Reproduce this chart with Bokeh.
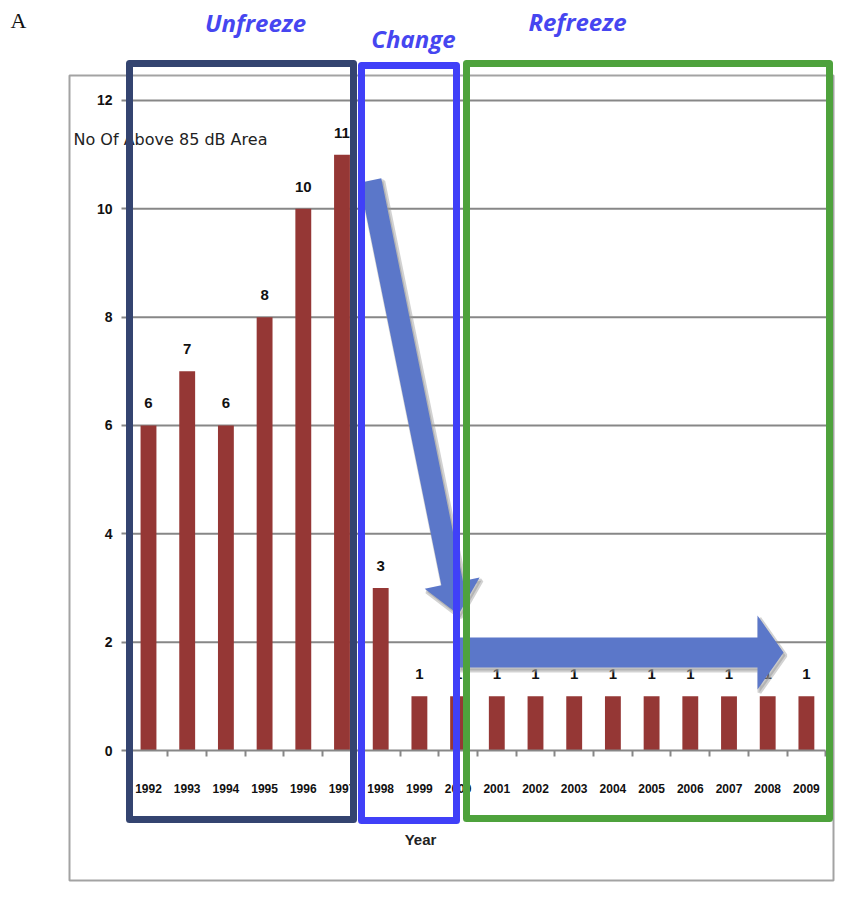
import numpy as np
from bokeh.plotting import figure
from bokeh.models import Range1d, LinearAxis, FixedTicker, Label
from bokeh.core.properties import value
from bokeh.embed import file_html
from bokeh.resources import INLINE

# ---------------- data ----------------
years = [1992, 1993, 1994, 1995, 1996, 1997, 1998, 1999, 2000,
         2001, 2002, 2003, 2004, 2005, 2006, 2007, 2008, 2009]
counts = [6, 7, 6, 8, 10, 11, 3, 1, 1, 1, 1, 1, 1, 1, 1, 1, 1, 1]
y_ticks = [0, 2, 4, 6, 8, 10, 12]
phases = ["Unfreeze", "Change", "Refreeze"]
y_title = "No Of Above 85 dB Area"
x_title = "Year"
panel_letter = "A"

# ---------------- layout helpers (page pixel -> data) ----------------
PX_PER_YEAR = 38.7
PX_PER_UNIT = 54.17


def dx(px):
    return years[0] + (px - 148) / PX_PER_YEAR


def dy(py):
    return (750 - py) / PX_PER_UNIT


W, H = 835, 882
p = figure(width=W, height=H,
           x_range=Range1d(dx(0), dx(W)), y_range=Range1d(dy(H), dy(0)),
           x_axis_type=None, y_axis_type=None,
           toolbar_location=None, output_backend="svg",
           min_border=0, outline_line_color=None)
p.background_fill_color = "white"

FONT = "Liberation Sans"
AXIS_GRAY = "#878787"

# outer chart border
p.quad(left=dx(69), right=dx(833), top=dy(75), bottom=dy(880),
       fill_color=None, line_color="#a3a3a3", line_width=2, level="underlay")

# horizontal gridlines (from tick list)
grid_vals = y_ticks[1:]
p.segment(x0=[years[0] - 0.5] * len(grid_vals), x1=[years[-1] + 0.55] * len(grid_vals),
          y0=grid_vals, y1=grid_vals, line_color=AXIS_GRAY, line_width=2, level="underlay")

# axes
xaxis = LinearAxis(fixed_location=0,
                   ticker=FixedTicker(ticks=years,
                                      minor_ticks=[y - 0.5 for y in years] + [years[-1] + 0.5]),
                   bounds=(years[0] - 0.5, years[-1] + 0.5))
xaxis.major_label_overrides = {y: str(y) for y in years}
xaxis.major_tick_line_color = None
xaxis.major_tick_out = 0
xaxis.major_tick_in = 0
xaxis.minor_tick_out = 6
xaxis.minor_tick_in = 0
xaxis.minor_tick_line_color = AXIS_GRAY
xaxis.minor_tick_line_width = 2
xaxis.axis_line_color = AXIS_GRAY
xaxis.axis_line_width = 2
xaxis.major_label_standoff = 27
xaxis.major_label_text_font = FONT
xaxis.major_label_text_font_size = "12px"
xaxis.major_label_text_font_style = "bold"
xaxis.major_label_text_color = "#111111"
p.add_layout(xaxis, "below")

yaxis = LinearAxis(fixed_location=dx(128), ticker=FixedTicker(ticks=y_ticks), bounds=(0, 12))
yaxis.major_label_overrides = {t: str(t) for t in y_ticks}
yaxis.minor_tick_line_color = None
yaxis.major_tick_out = 7
yaxis.major_tick_in = 0
yaxis.major_tick_line_color = AXIS_GRAY
yaxis.major_tick_line_width = 2
yaxis.axis_line_color = AXIS_GRAY
yaxis.axis_line_width = 2
yaxis.major_label_standoff = 9
yaxis.major_label_text_font = FONT
yaxis.major_label_text_font_size = "14px"
yaxis.major_label_text_font_style = "bold"
yaxis.major_label_text_color = "#111111"
p.add_layout(yaxis, "left")

# bars
p.vbar(x=years, top=counts, bottom=0, width=0.41, fill_color="#953735", line_color=None)

# value labels
p.text(x=years, y=counts, text=[str(c) for c in counts], text_align="center",
       text_baseline="bottom", y_offset=-17, text_font=value(FONT),
       text_font_size="15px", text_font_style="bold", text_color="#111111")

# y title (horizontal) and x title
p.add_layout(Label(x=dx(73), y=dy(139), text=y_title, text_align="left",
                   text_baseline="middle", text_font="DejaVu Sans", text_font_size="16px",
                   text_color="#222222"))
p.add_layout(Label(x=dx(420), y=dy(839), text=x_title, text_align="center",
                   text_baseline="middle", text_font=FONT, text_font_size="15px",
                   text_font_style="bold", text_color="#222222"))


# ---------------- arrows ----------------
def arrow_poly(tail, tip, half_shaft, half_head, head_len):
    tail = np.array(tail, float)
    tip = np.array(tip, float)
    u = (tip - tail) / np.linalg.norm(tip - tail)
    n = np.array([u[1], -u[0]])
    base = tip - head_len * u
    pts = [tail + half_shaft * n, base + half_shaft * n, base + half_head * n, tip,
           base - half_head * n, base - half_shaft * n, tail - half_shaft * n]
    return [q[0] for q in pts], [q[1] for q in pts]


ARROW_BLUE = "#5b77c9"
SHADOW = "#9c9c9c"
arrows = [arrow_poly((370, 180), (458, 614), 11, 28, 32),
          arrow_poly((458, 652), (783, 652), 15, 37, 26)]
for axs, ays in arrows:
    p.patch([dx(v + 2) for v in axs], [dy(v + 3) for v in ays], fill_color=SHADOW,
            fill_alpha=0.55, line_color=SHADOW, line_alpha=0.45, line_width=4)
    p.patch([dx(v) for v in axs], [dy(v) for v in ays], fill_color=ARROW_BLUE,
            line_color=None)

# ---------------- phase boxes ----------------
box_left = [129, 361, 466]
box_right = [353, 456, 829]
box_top = [63, 65, 63]
box_bottom = [819, 820, 818]
box_colors = ["#344470", "#4040f8", "#4ea23c"]
p.quad(left=[dx(v) for v in box_left], right=[dx(v) for v in box_right],
       top=[dy(v) for v in box_top], bottom=[dy(v) for v in box_bottom],
       fill_color=None, line_color=box_colors, line_width=7, line_join="round",
       level="overlay")

# phase titles
title_pos = [(255, 22), (413, 38), (577, 21)]
for name, (tx, ty) in zip(phases, title_pos):
    p.add_layout(Label(x=dx(tx), y=dy(ty), text=name, text_align="center",
                       text_baseline="middle", text_font="Open Sans",
                       text_font_size="24px", text_font_style="bold italic",
                       text_color="#4646f0"))

p.add_layout(Label(x=dx(10), y=dy(20), text=panel_letter, text_align="left",
                   text_baseline="middle", text_font="Liberation Serif",
                   text_font_size="22px", text_color="#111111"))

open("out.html", "w").write(file_html(p, INLINE))
